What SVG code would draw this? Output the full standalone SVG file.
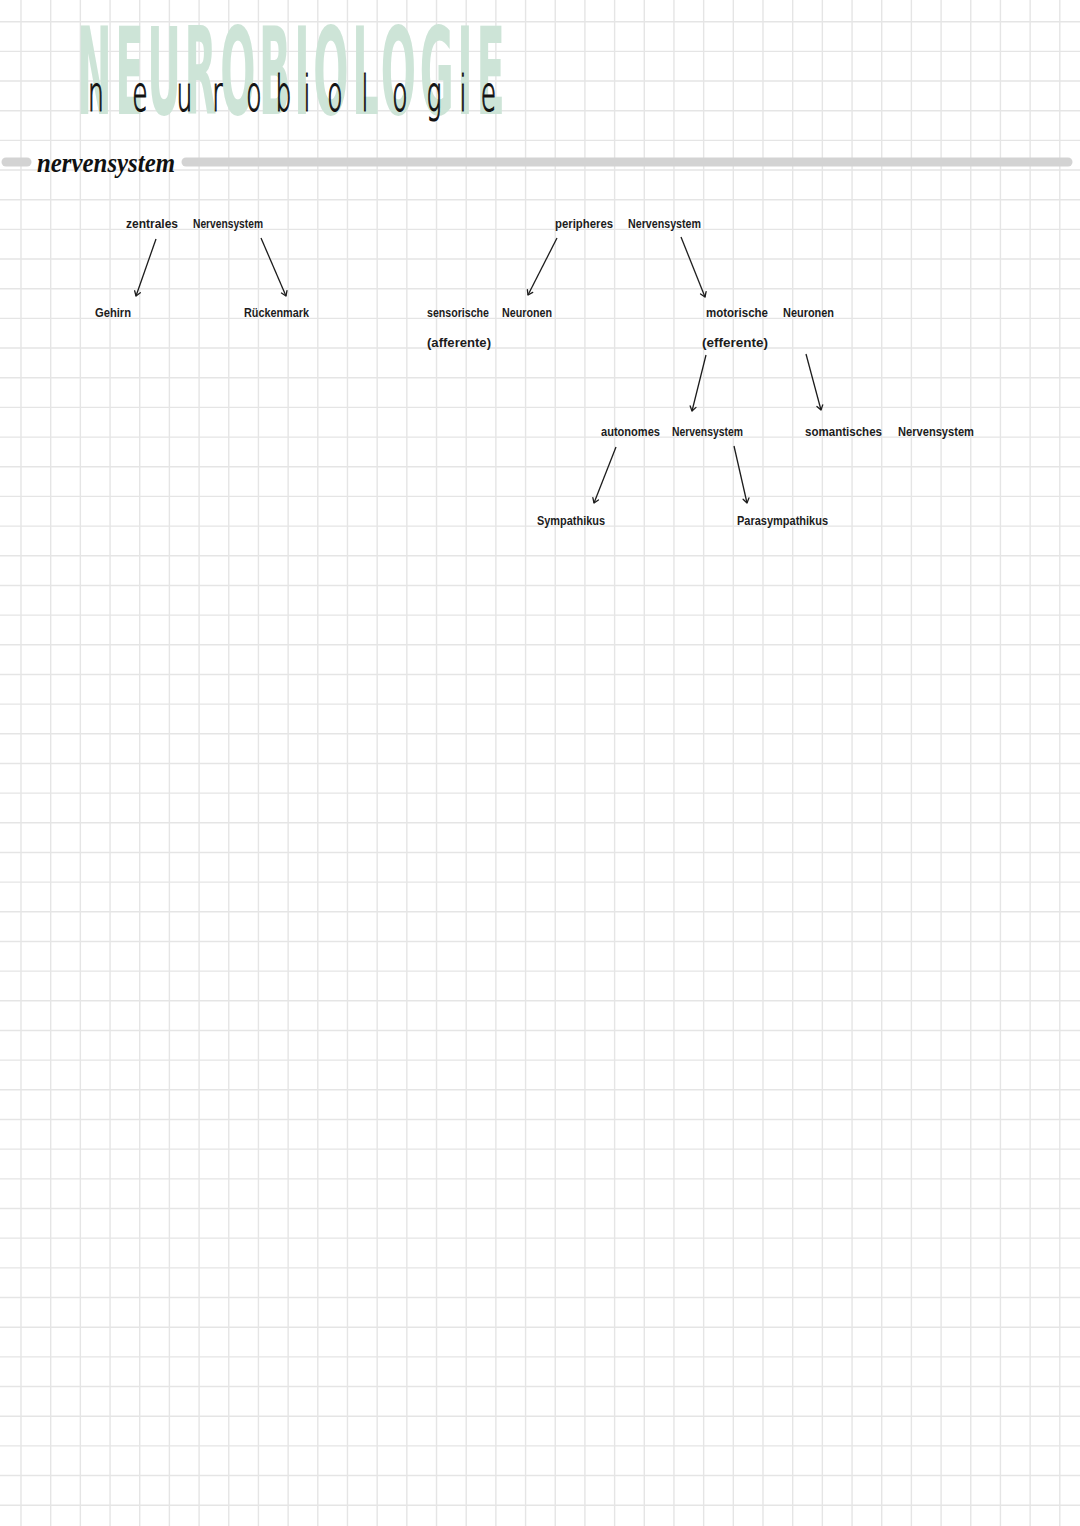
<svg xmlns="http://www.w3.org/2000/svg" width="1080" height="1526" viewBox="0 0 1080 1526">
<style>
.grid{stroke:#e5e5e5;stroke-width:1.4;fill:none}
.lbl{font-family:"Liberation Sans",Arial,sans-serif;font-weight:bold;font-size:12px;fill:#1c1c1c}
.arr{stroke:#1c1c1c;stroke-width:1.3;fill:none;marker-end:url(#ah)}
.bar{stroke:#d3d3d3;stroke-width:9;stroke-linecap:round}
</style>
<defs>
<marker id="ah" markerUnits="userSpaceOnUse" markerWidth="12" markerHeight="12" refX="0" refY="0" viewBox="-6 -6 12 12" orient="auto">
<path d="M-4.5,-3 L0,0 L-4.5,3" fill="none" stroke="#1c1c1c" stroke-width="1.3" stroke-linecap="round" stroke-linejoin="round"/>
</marker>
</defs>
<rect width="1080" height="1526" fill="#ffffff"/>
<g id="grid">
<path class="grid" d="M21 0V1526M50.68 0V1526M80.36 0V1526M110.04 0V1526M139.72 0V1526M169.4 0V1526M199.08 0V1526M228.76 0V1526M258.44 0V1526M288.12 0V1526M317.8 0V1526M347.48 0V1526M377.16 0V1526M406.84 0V1526M436.52 0V1526M466.2 0V1526M495.88 0V1526M525.56 0V1526M555.24 0V1526M584.92 0V1526M614.6 0V1526M644.28 0V1526M673.96 0V1526M703.64 0V1526M733.32 0V1526M763 0V1526M792.68 0V1526M822.36 0V1526M852.04 0V1526M881.72 0V1526M911.4 0V1526M941.08 0V1526M970.76 0V1526M1000.44 0V1526M1030.12 0V1526M1059.8 0V1526"/>
<path class="grid" d="M0 21.7H1080M0 51.37H1080M0 81.04H1080M0 110.71H1080M0 140.38H1080M0 170.05H1080M0 199.72H1080M0 229.39H1080M0 259.06H1080M0 288.73H1080M0 318.4H1080M0 348.07H1080M0 377.74H1080M0 407.41H1080M0 437.08H1080M0 466.75H1080M0 496.42H1080M0 526.09H1080M0 555.76H1080M0 585.43H1080M0 615.1H1080M0 644.77H1080M0 674.44H1080M0 704.11H1080M0 733.78H1080M0 763.45H1080M0 793.12H1080M0 822.79H1080M0 852.46H1080M0 882.13H1080M0 911.8H1080M0 941.47H1080M0 971.14H1080M0 1000.81H1080M0 1030.48H1080M0 1060.15H1080M0 1089.82H1080M0 1119.49H1080M0 1149.16H1080M0 1178.83H1080M0 1208.5H1080M0 1238.17H1080M0 1267.84H1080M0 1297.51H1080M0 1327.18H1080M0 1356.85H1080M0 1386.52H1080M0 1416.19H1080M0 1445.86H1080M0 1475.53H1080M0 1505.2H1080"/>
</g>
<g id="title">
<g transform="scale(0.34,1)">
<text x="226.5" y="114" font-family="'DejaVu Sans',sans-serif" font-weight="bold" font-size="122" fill="#cde4d7" textLength="1258" lengthAdjust="spacing">NEUROBIOLOGIE</text>
</g>
<g transform="scale(0.5,1)">
<text x="192 280 369 435 508 567 614 670 730 800 868 926 977" y="111" text-anchor="middle" font-family="'DejaVu Sans',sans-serif" font-weight="200" font-size="50" fill="#111" stroke="#111" stroke-width="1.2">neurobiologie</text>
</g>
</g>
<g id="header">
<line class="bar" x1="6" y1="162" x2="27" y2="162"/>
<line class="bar" x1="186" y1="162" x2="1068" y2="162"/>
<text x="37" y="172" font-family="'Liberation Serif',serif" font-weight="bold" font-style="italic" font-size="28" fill="#111" textLength="138" lengthAdjust="spacingAndGlyphs">nervensystem</text>
</g>
<g id="connectors">
<line class="arr" x1="156" y1="239" x2="136" y2="296"/>
<line class="arr" x1="261" y1="238" x2="286" y2="296"/>
<line class="arr" x1="557" y1="238" x2="528" y2="295"/>
<line class="arr" x1="681" y1="237" x2="705" y2="297"/>
<line class="arr" x1="706" y1="355" x2="692" y2="411"/>
<line class="arr" x1="806" y1="354" x2="821" y2="410"/>
<line class="arr" x1="616" y1="447" x2="594" y2="503"/>
<line class="arr" x1="734" y1="446" x2="747" y2="503"/>
</g>
<g id="zns"><text class="lbl" y="228"><tspan x="126" textLength="52" lengthAdjust="spacingAndGlyphs">zentrales</tspan><tspan x="193" textLength="70" lengthAdjust="spacingAndGlyphs">Nervensystem</tspan></text></g>
<g id="gehirn"><text class="lbl" x="95" y="317" textLength="36" lengthAdjust="spacingAndGlyphs">Gehirn</text></g>
<g id="rueckenmark"><text class="lbl" x="244" y="317" textLength="65" lengthAdjust="spacingAndGlyphs">Rückenmark</text></g>
<g id="pns"><text class="lbl" y="228"><tspan x="555" textLength="58" lengthAdjust="spacingAndGlyphs">peripheres</tspan><tspan x="628" textLength="73" lengthAdjust="spacingAndGlyphs">Nervensystem</tspan></text></g>
<g id="sensorisch"><text class="lbl" y="317"><tspan x="427" textLength="62" lengthAdjust="spacingAndGlyphs">sensorische</tspan><tspan x="502" textLength="50" lengthAdjust="spacingAndGlyphs">Neuronen</tspan></text><text class="lbl" x="427" y="347" textLength="64" lengthAdjust="spacingAndGlyphs">(afferente)</text></g>
<g id="motorisch"><text class="lbl" y="317"><tspan x="706" textLength="62" lengthAdjust="spacingAndGlyphs">motorische</tspan><tspan x="783" textLength="51" lengthAdjust="spacingAndGlyphs">Neuronen</tspan></text><text class="lbl" x="702" y="347" textLength="66" lengthAdjust="spacingAndGlyphs">(efferente)</text></g>
<g id="autonom"><text class="lbl" y="436"><tspan x="601" textLength="59" lengthAdjust="spacingAndGlyphs">autonomes</tspan><tspan x="672" textLength="71" lengthAdjust="spacingAndGlyphs">Nervensystem</tspan></text></g>
<g id="somatisch"><text class="lbl" y="436"><tspan x="805" textLength="77" lengthAdjust="spacingAndGlyphs">somantisches</tspan><tspan x="898" textLength="76" lengthAdjust="spacingAndGlyphs">Nervensystem</tspan></text></g>
<g id="sympathikus"><text class="lbl" x="537" y="525" textLength="68" lengthAdjust="spacingAndGlyphs">Sympathikus</text></g>
<g id="parasympathikus"><text class="lbl" x="737" y="525" textLength="91" lengthAdjust="spacingAndGlyphs">Parasympathikus</text></g>
</svg>
